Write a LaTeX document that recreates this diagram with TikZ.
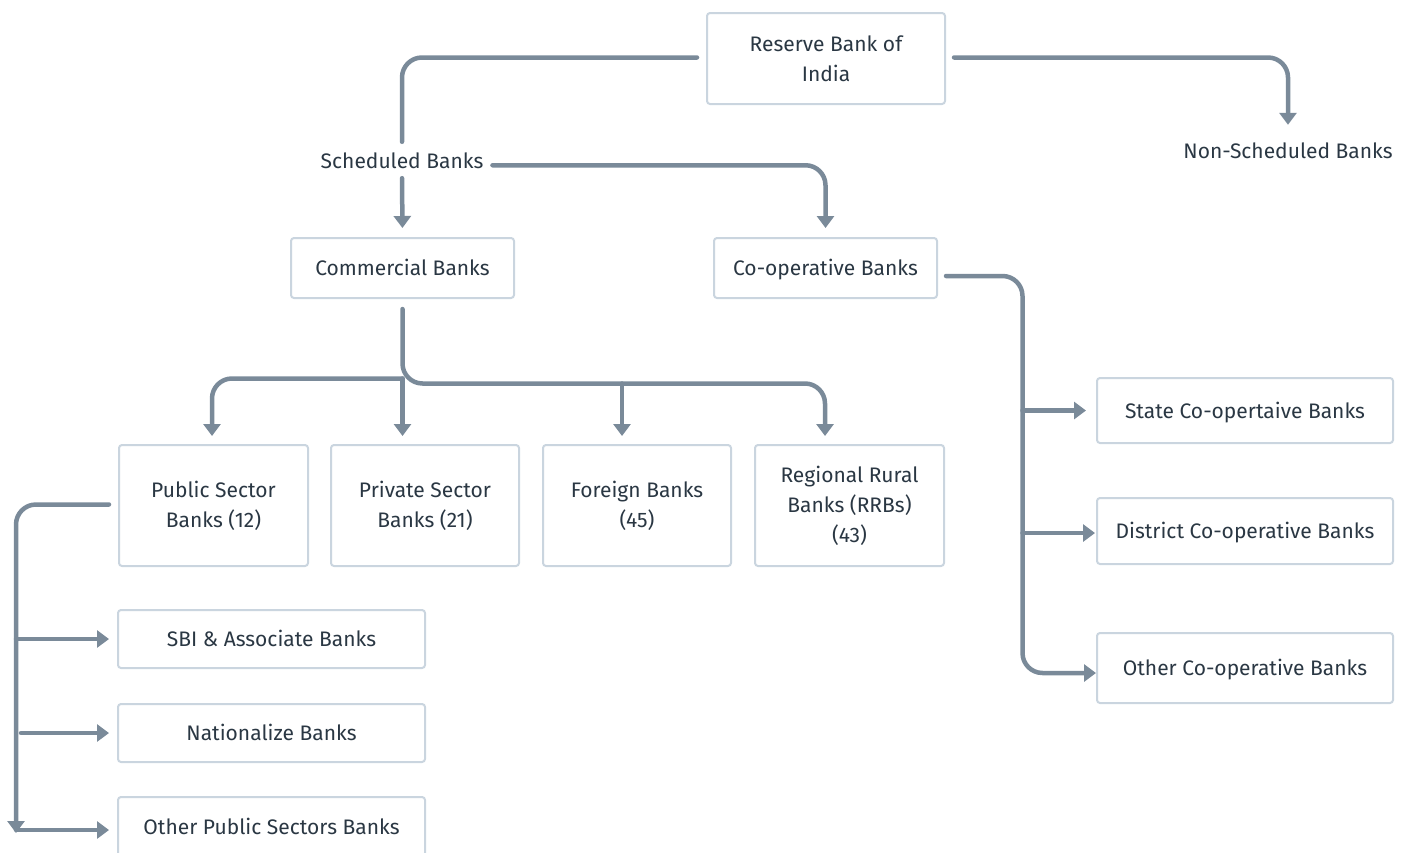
\documentclass[tikz,border=0pt]{standalone}
\usepackage{fontspec}
\setmainfont{Fira Sans}
\usetikzlibrary{arrows.meta}
\definecolor{linec}{HTML}{7A8A99}
\definecolor{textc}{HTML}{2A3743}
\definecolor{boxc}{HTML}{CAD5DF}
\begin{document}
\begin{tikzpicture}[x=1pt,y=-1pt,
  font=\fontsize{21}{30}\selectfont, text=textc,
  box/.style={draw=boxc, line width=2pt, rounded corners=3pt, align=center, inner sep=0pt, fill=white},
  one/.style={text height=19pt, text depth=4pt},
  lbl/.style={align=center, inner sep=0pt, text height=15.5pt, text depth=5pt, anchor=base},
  conn/.style={draw=linec, line width=4.5pt, line cap=round, rounded corners=20pt},
  arr/.style={conn, -{Triangle[length=12pt,width=17pt]}}]
\clip (0,0) rectangle (1408,852);
\useasboundingbox (0,0) rectangle (1408,852);

% nodes
\node[box, minimum width=238pt, minimum height=91pt] (rbi) at (826,58.5) {Reserve Bank of\\India};
\node[lbl] (nsb) at (1288,158) {Non-Scheduled Banks};
\node[lbl] (sch) at (402,168) {Scheduled Banks};
\node[box, one, minimum width=223pt, minimum height=60pt] (comm) at (402.5,268) {Commercial Banks};
\node[box, one, minimum width=223pt, minimum height=60pt] (coop) at (825.5,268) {Co-operative Banks};

\node[box, minimum width=189pt, minimum height=121pt] (pub) at (213.5,505.5) {Public Sector\\Banks (12)};
\node[box, minimum width=188pt, minimum height=121pt] (priv) at (425,505.5) {Private Sector\\Banks (21)};
\node[box, minimum width=188pt, minimum height=121pt] (forn) at (637,505.5) {Foreign Banks\\(45)};
\node[box, minimum width=189pt, minimum height=121pt] (rrb) at (849.5,505.5) {Regional Rural\\Banks (RRBs)\\(43)};

\node[box, one, minimum width=307pt, minimum height=58pt] (sbi) at (271.5,639) {SBI \& Associate Banks};
\node[box, one, minimum width=307pt, minimum height=58pt] (nat) at (271.5,733) {Nationalize Banks};
\node[box, one, minimum width=307pt, minimum height=59pt] (opb) at (271.5,826.5) {Other Public Sectors Banks};

\node[box, one, minimum width=296pt, minimum height=65pt] (scb) at (1245,410.5) {State Co-opertaive Banks};
\node[box, one, minimum width=296pt, minimum height=66pt] (dcb) at (1245,531) {District Co-operative Banks};
\node[box, one, minimum width=296pt, minimum height=70pt] (ocb) at (1245,668) {Other Co-operative Banks};

% junction coordinates
\coordinate (lbus) at (402.5,378.5);
\coordinate (bus) at (622,383.5);
\coordinate (rspine) at (1022.5,500);
\coordinate (lspine) at (16,833);

% connectors
\draw[conn, shorten <=9pt, shorten >=10.5pt] ([yshift=1pt]rbi.west) -| (sch.north);
\draw[arr, shorten <=8pt, shorten >=17.5pt] ([yshift=1pt]rbi.east) -| (nsb.north);
\draw[arr, shorten <=5pt, shorten >=9pt] (sch.south) -- (comm.north);
\draw[arr, shorten <=9pt, shorten >=9pt] ([yshift=-2.5pt]sch.east) -| (coop.north);

\draw[arr, shorten <=10pt, shorten >=8pt] (comm.south) |- (bus) -| ([xshift=-24.5pt]rrb.north);
\draw[arr, shorten >=8pt] (lbus) -| ([xshift=-1.5pt]pub.north);
\draw[arr, shorten >=8pt] (lbus) -- (lbus |- priv.north);
\draw[arr, shorten >=8pt] (bus) -- (bus |- forn.north);

\draw[arr, shorten <=9pt] ([yshift=1pt]pub.west) -| (lspine);
\draw[arr, shorten >=8pt] (lspine |- sbi.west) -- (sbi.west);
\draw[arr, shorten <=5pt, shorten >=8pt] (lspine |- nat.west) -- (nat.west);
\draw[arr, shorten >=8pt] ([yshift=-3.5pt]lspine |- opb.west) -- ([yshift=-3.5pt]opb.west);

\draw[arr, shorten <=8pt] ([yshift=-8pt]coop.east) -| (rspine) |- ([yshift=-5pt]ocb.west);
\draw[arr, shorten >=10pt] (rspine |- scb.west) -- (scb.west);
\draw[arr, shorten >=1pt] ([yshift=-2pt]rspine |- dcb.west) -- ([yshift=-2pt]dcb.west);
\end{tikzpicture}
\end{document}
